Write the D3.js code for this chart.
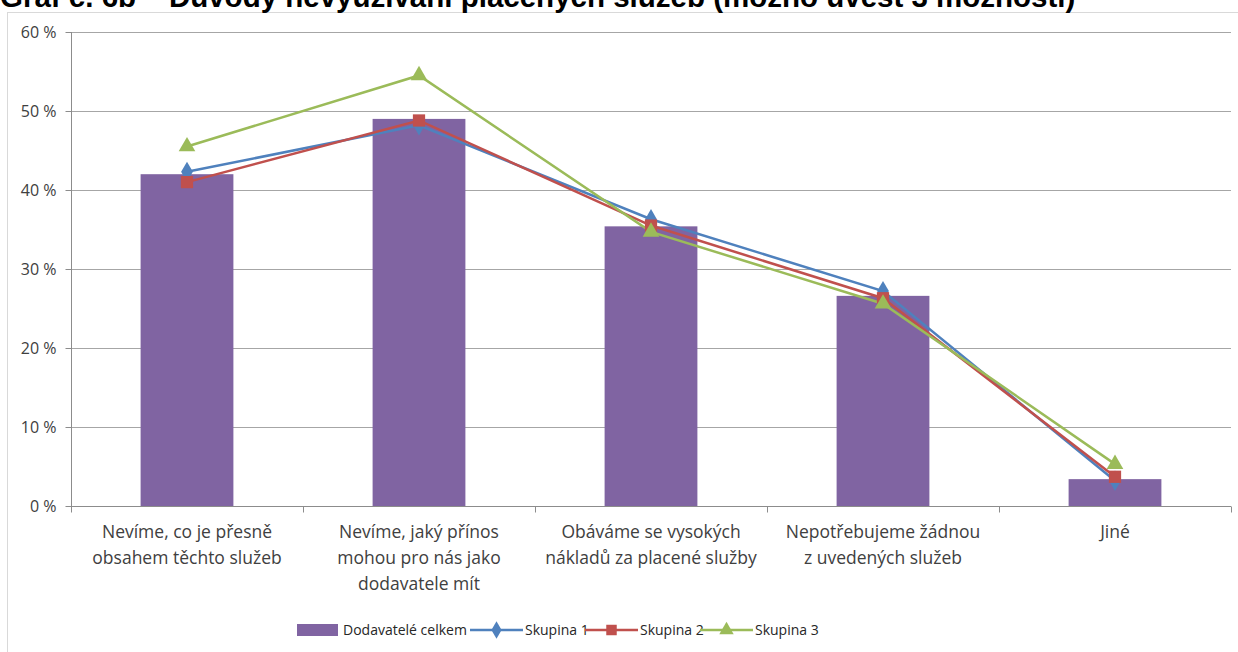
<!DOCTYPE html>
<html>
<head>
<meta charset="utf-8">
<script src="https://d3js.org/d3.v7.min.js"></script>
<style>
body { margin: 0; background: #fff; }
.axis text { font: 16px "Open Sans", sans-serif; fill: #404040; }
.x.axis text { font-size: 17.5px; }
.axis path, .axis line { stroke: #8c8c8c; }
.grid line { stroke: #a6a6a6; }
.legend text { font: 14px "Open Sans", sans-serif; fill: #262626; }
.title { font: bold 29.5px "Liberation Sans", Arial, sans-serif; fill: #000; }
</style>
</head>
<body>
<script>

// chart values
var categories = [
    ["Nevíme, co je přesně", "obsahem těchto služeb"],
    ["Nevíme, jaký přínos", "mohou pro nás jako", "dodavatele mít"],
    ["Obáváme se vysokých", "nákladů za placené služby"],
    ["Nepotřebujeme žádnou", "z uvedených služeb"],
    ["Jiné"]
];
var totalValues = [42.0, 49.0, 35.4, 26.6, 3.4];     // Dodavatelé celkem
var group1 = [42.3, 48.2, 36.3, 27.2, 3.2];          // Skupina 1
var group2 = [41.0, 48.8, 35.5, 26.3, 3.7];          // Skupina 2
var group3 = [45.5, 54.5, 34.7, 25.6, 5.3];          // Skupina 3
var yTicks = [0, 10, 20, 30, 40, 50, 60];

var series = [
    {name: "Skupina 1", values: group1, color: "#4f81bd", symbol: d3.symbolDiamond},
    {name: "Skupina 2", values: group2, color: "#c0504d", symbol: d3.symbolSquare},
    {name: "Skupina 3", values: group3, color: "#9bbb59", symbol: d3.symbolTriangle}
];

var W = 1238, H = 652;
var margin = {top: 32, left: 71, right: 7, bottom: 146};
var width = W - margin.left - margin.right,
    height = H - margin.top - margin.bottom;

var root = d3.select("body").append("svg")
    .attr("width", W)
    .attr("height", H);

// outer frame of the chart object
root.append("rect")
    .attr("x", 7.5).attr("y", 12.5)
    .attr("width", W).attr("height", H)
    .attr("fill", "none")
    .attr("stroke", "#d9d9d9");

// title, cut off at the top like the source
root.append("text")
    .attr("class", "title")
    .attr("x", 0).attr("y", 7)
    .text("Graf č. 6b – Důvody nevyužívání placených služeb (možno uvést 3 možnosti)");

var svg = root.append("g")
    .attr("transform", "translate(" + margin.left + "," + margin.top + ")");

var x = d3.scaleBand()
    .domain(d3.range(categories.length))
    .range([0, width])
    .paddingInner(0.6)
    .paddingOuter(0.3);

var xCenter = function(i) { return x(i) + x.bandwidth() / 2; };
var step = width / categories.length;

var y = d3.scaleLinear()
    .domain([0, 60])
    .range([height, 0]);

// gridlines
svg.append("g")
    .attr("class", "grid")
    .selectAll("line")
    .data(yTicks.slice(1))
  .enter().append("line")
    .attr("x1", 0).attr("x2", width)
    .attr("y1", function(d) { return Math.round(y(d)) + 0.5; })
    .attr("y2", function(d) { return Math.round(y(d)) + 0.5; });

// y axis
var yAxis = d3.axisLeft(y)
    .tickValues(yTicks)
    .tickSize(6)
    .tickPadding(9)
    .tickFormat(function(d) { return d + " %"; });

svg.append("g")
    .attr("class", "y axis")
    .attr("transform", "translate(0.5,0)")
    .call(yAxis)
    .call(function(g) { g.select(".domain").attr("d", "M0," + height + "V0"); });

// bars
svg.selectAll(".bar")
    .data(totalValues)
  .enter().append("rect")
    .attr("class", "bar")
    .attr("x", function(d, i) { return x(i); })
    .attr("width", x.bandwidth())
    .attr("y", function(d) { return y(d); })
    .attr("height", function(d) { return height - y(d); })
    .attr("fill", "#8064a2");

// x axis with ticks between the categories
var xAxisG = svg.append("g")
    .attr("class", "x axis")
    .attr("transform", "translate(0," + (Math.round(height) + 0.5) + ")");

xAxisG.append("line")
    .attr("x1", 0).attr("x2", width)
    .attr("stroke", "#8c8c8c");

xAxisG.selectAll(".tk")
    .data(d3.range(categories.length + 1))
  .enter().append("line")
    .attr("class", "tk")
    .attr("x1", function(d) { return Math.round(d * step) + 0.5; })
    .attr("x2", function(d) { return Math.round(d * step) + 0.5; })
    .attr("y1", 0).attr("y2", 6);

var labels = xAxisG.selectAll(".cat")
    .data(categories)
  .enter().append("text")
    .attr("class", "cat")
    .attr("text-anchor", "middle")
    .attr("transform", function(d, i) { return "translate(" + xCenter(i) + ",31)"; });

labels.selectAll("tspan")
    .data(function(d) { return d; })
  .enter().append("tspan")
    .attr("x", 0)
    .attr("y", function(d, i) { return i * 26; })
    .text(function(d) { return d; });

// lines with markers
var line = d3.line()
    .x(function(d, i) { return xCenter(i); })
    .y(function(d) { return y(d); });

series.forEach(function(s) {
    svg.append("path")
        .datum(s.values)
        .attr("d", line)
        .attr("fill", "none")
        .attr("stroke", s.color)
        .attr("stroke-width", 2.5);
});

series.forEach(function(s) {
    svg.selectAll(".pt-" + s.name.replace(" ", ""))
        .data(s.values)
      .enter().append("path")
        .attr("transform", function(d, i) { return "translate(" + xCenter(i) + "," + y(d) + ")"; })
        .attr("d", d3.symbol().type(s.symbol).size(s.symbol === d3.symbolSquare ? 150 : 120))
        .attr("fill", s.color);
});

// legend
var legend = root.append("g")
    .attr("class", "legend")
    .attr("transform", "translate(297,630)");

legend.append("rect")
    .attr("x", 0).attr("y", -6)
    .attr("width", 41).attr("height", 12)
    .attr("fill", "#8064a2");
legend.append("text")
    .attr("x", 46).attr("y", 5)
    .text("Dodavatelé celkem");

var legendX = [173, 288, 403];
series.forEach(function(s, i) {
    var g = legend.append("g").attr("transform", "translate(" + legendX[i] + ",0)");
    g.append("line")
        .attr("x1", 0).attr("x2", 53)
        .attr("stroke", s.color).attr("stroke-width", 2.5);
    g.append("path")
        .attr("transform", "translate(26.5,0)")
        .attr("d", d3.symbol().type(s.symbol).size(s.symbol === d3.symbolSquare ? 110 : 90))
        .attr("fill", s.color);
    g.append("text")
        .attr("x", 55).attr("y", 5)
        .text(s.name);
});

</script>
</body>
</html>
